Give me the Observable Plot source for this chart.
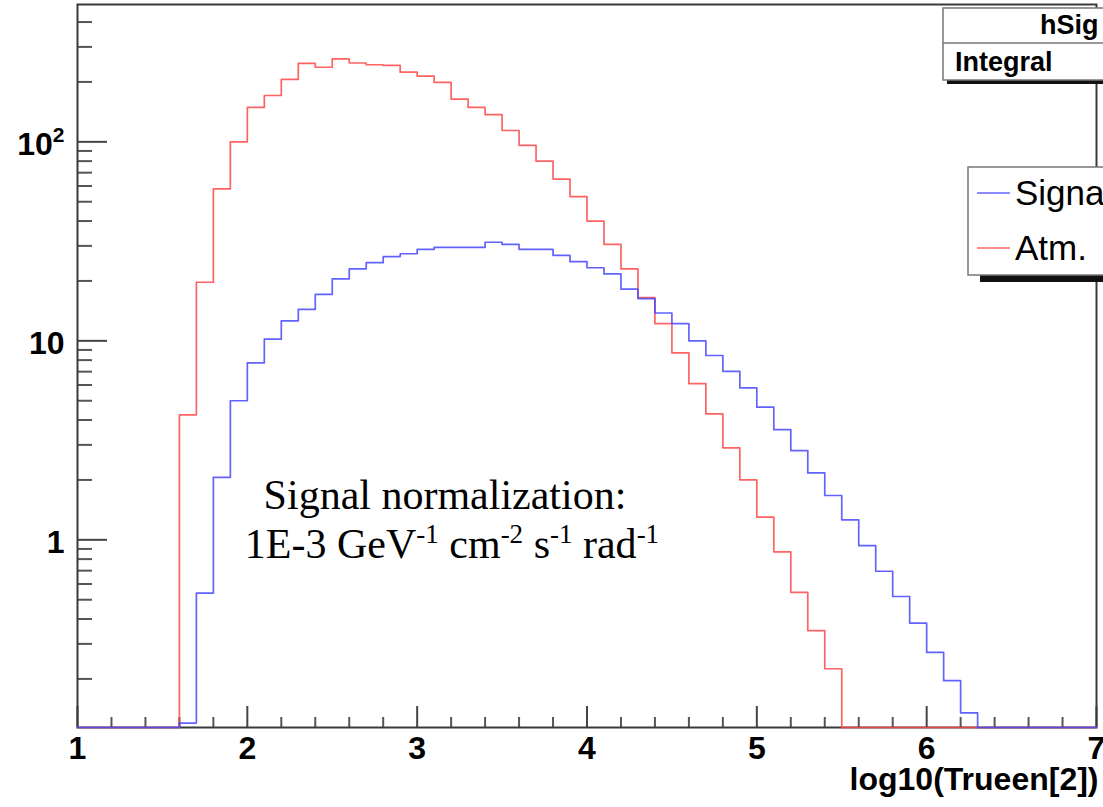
<!DOCTYPE html>
<html><head><meta charset="utf-8">
<script src="https://cdn.jsdelivr.net/npm/d3@7"></script>
<script src="https://cdn.jsdelivr.net/npm/@observablehq/plot@0.6"></script>
<style>
html,body{margin:0;padding:0;background:#fff;overflow:hidden;}
#chart{position:relative;width:1103px;height:807px;overflow:hidden;}
</style></head><body><div id="chart"></div>
<script>
// bin lower edges (plus final upper edge) of log10(Trueen[2])
const binEdges = [1.0,1.1,1.2,1.3,1.4,1.5,1.6,1.7,1.8,1.9,
  2.0,2.1,2.2,2.3,2.4,2.5,2.6,2.7,2.8,2.9,
  3.0,3.1,3.2,3.3,3.4,3.5,3.6,3.7,3.8,3.9,
  4.0,4.1,4.2,4.3,4.4,4.5,4.6,4.7,4.8,4.9,
  5.0,5.1,5.2,5.3,5.4,5.5,5.6,5.7,5.8,5.9,
  6.0,6.1,6.2,6.3,6.4,6.5,6.6,6.7,6.8,6.9,7.0];
const signalValues = [0,0,0,0,0,0,0.12,0.54,2.06,5.0,
  7.75,10.2,12.6,14.4,17.1,20.5,23.0,24.7,26.5,27.4,
  28.8,29.5,29.5,29.5,31.3,30.5,28.8,28.8,26.9,25.0,
  23.3,21.7,18.2,16.3,13.8,12.2,10.0,8.44,7.03,5.80,
  4.64,3.58,2.81,2.17,1.67,1.26,0.936,0.695,0.519,0.381,
  0.272,0.196,0.135,0,0,0,0,0,0,0];
const atmValues = [0,0,0,0,0,0,4.25,19.7,58,100,
  149,171,206,248,237,261,249,244,242,224,
  214,199,164,149,137,114,96,80,65,53,
  40,30.5,23,16.5,12.2,8.7,6.1,4.3,2.9,2.0,
  1.3,0.87,0.545,0.35,0.225,0,0,0,0,0,
  0,0,0,0,0,0,0,0,0,0];
const seriesNames = ["Signal", "Atm."];
const seriesColors = ["#4646ff", "#ff4646"];
const legendColors = ["#8c8cff", "#ff8c8c"];
const xDomain = [1, 7];
const yDomain = [0.114, 490];
const xMajorTicks = [1,2,3,4,5,6,7];
const xMajorLabels = ["1","2","3","4","5","6","7"];
const xMinorTicks = [1.2,1.4,1.6,1.8,2.2,2.4,2.6,2.8,3.2,3.4,3.6,3.8,4.2,4.4,4.6,4.8,5.2,5.4,5.6,5.8,6.2,6.4,6.6,6.8];
const yMajorTicks = [1,10,100];
const yMajorLabels = ["1","10","10²"];
const yMinorTicks = [0.2,0.3,0.4,0.5,0.6,0.7,0.8,0.9,2,3,4,5,6,7,8,9,20,30,40,50,60,70,80,90,200,300,400];
const xTitle = "log10(Trueen[2])";
const statsTitle = "hSig";
const statsRow = "Integral";
const noteLine1 = "Signal normalization:";
const noteLine2 = [["1E-3 GeV",false],["-1",true],[" cm",false],["-2",true],[" s",false],["-1",true],[" rad",false],["-1",true]];

const sans = "'Liberation Sans', Arial, Helvetica, sans-serif";
const serif = "'Liberation Serif', 'Times New Roman', serif";

function rows(vals, name) {
  return binEdges.map((x, i) => ({x, v: vals[Math.min(i, vals.length - 1)], series: name}));
}
const yVal = d => d.v > 0 ? d.v : yDomain[0];

const plot = Plot.plot({
  width: 1103, height: 807,
  marginLeft: 77, marginRight: 7, marginTop: 4, marginBottom: 80,
  x: {domain: xDomain},
  y: {type: "log", domain: yDomain},
  style: {fontFamily: sans, color: "#000", background: "#fff", overflow: "visible"},
  marks: [
    Plot.axisY(yMinorTicks, {tickSize: -15, fill: "none", stroke: "#555", strokeWidth: 2, label: null}),
    Plot.axisY(yMajorTicks, {tickSize: -30, fill: "none", stroke: "#444", strokeWidth: 2, label: null}),
    Plot.axisY(yMajorTicks, {tickSize: 0, tickPadding: 13, dy: 3, tickFormat: d => yMajorLabels[yMajorTicks.indexOf(d)], fontSize: 32, fontWeight: "bold", fill: "#000", label: null}),
    Plot.axisX(xMinorTicks, {tickSize: -10, fill: "none", stroke: "#555", strokeWidth: 2, label: null}),
    Plot.axisX(xMajorTicks, {tickSize: -21, fill: "none", stroke: "#444", strokeWidth: 2, label: null}),
    Plot.axisX(xMajorTicks, {tickSize: 0, tickPadding: 9, tickFormat: d => xMajorLabels[xMajorTicks.indexOf(d)], fontSize: 32, fontWeight: "bold", fill: "#000", label: null}),
    Plot.frame({stroke: "#3a3a3a", strokeWidth: 2}),
    Plot.lineY(rows(atmValues, seriesNames[1]), {x: "x", y: yVal, curve: "step-after", stroke: seriesColors[1], strokeWidth: 1.7, strokeOpacity: 0.85}),
    Plot.lineY(rows(signalValues, seriesNames[0]), {x: "x", y: yVal, curve: "step-after", stroke: seriesColors[0], strokeWidth: 1.7, strokeOpacity: 0.85}),
    Plot.text([xTitle], {text: d => d, frameAnchor: "bottom-right", textAnchor: "end", dx: 2, dy: 62, fontSize: 32, fontWeight: "bold", fill: "#000"})
  ]
});
document.getElementById("chart").appendChild(plot);

const svg = d3.select(plot);
// real superscript for the 10^2 tick label
svg.selectAll("text").filter(function() { return this.textContent === "10²"; }).each(function() {
  const t = d3.select(this);
  t.text("10");
  t.append("tspan").attr("dy", -13).attr("font-size", 21).text("2");
});

// annotation
const note = svg.append("g").attr("font-family", serif).attr("fill", "#000").attr("text-anchor", "middle");
note.append("text").attr("x", 445).attr("y", 509).attr("font-size", 42).text(noteLine1);
const t2 = note.append("text").attr("x", 452).attr("y", 558).attr("font-size", 42);
let raised = false;
noteLine2.forEach(([s, sup]) => {
  const ts = t2.append("tspan").text(s);
  if (sup && !raised) { ts.attr("dy", -15).attr("font-size", 27); raised = true; }
  else if (sup) { ts.attr("font-size", 27); }
  else if (raised) { ts.attr("dy", 15); raised = false; }
});

// stats box
const stats = svg.append("g").attr("font-family", sans).attr("font-weight", "bold").attr("text-anchor", "start");
stats.append("rect").attr("x", 947).attr("y", 12).attr("width", 220).attr("height", 72).attr("fill", "#111");
stats.append("rect").attr("x", 943).attr("y", 8).attr("width", 220).attr("height", 72).attr("fill", "#fff").attr("stroke", "#777").attr("stroke-width", 1.5);
stats.append("line").attr("x1", 943).attr("x2", 1163).attr("y1", 43).attr("y2", 43).attr("stroke", "#777").attr("stroke-width", 1.5);
stats.append("text").attr("x", 1040).attr("y", 34).attr("font-size", 27).attr("fill", "#000").text(statsTitle);
stats.append("text").attr("x", 955).attr("y", 71).attr("font-size", 27).attr("fill", "#000").text(statsRow);

// legend box
const leg = svg.append("g").attr("font-family", sans).attr("text-anchor", "start");
leg.append("rect").attr("x", 980).attr("y", 174).attr("width", 220).attr("height", 108).attr("fill", "#111");
leg.append("rect").attr("x", 968).attr("y", 167).attr("width", 220).attr("height", 108).attr("fill", "#fff").attr("stroke", "#777").attr("stroke-width", 1.5);
seriesNames.forEach((name, i) => {
  const y = 193 + i * 55;
  leg.append("line").attr("x1", 977).attr("x2", 1010).attr("y1", y).attr("y2", y).attr("stroke", legendColors[i]).attr("stroke-width", 2);
  leg.append("text").attr("x", 1015).attr("y", y + 12).attr("font-size", 35).attr("fill", "#000").text(name);
});
</script></body></html>
